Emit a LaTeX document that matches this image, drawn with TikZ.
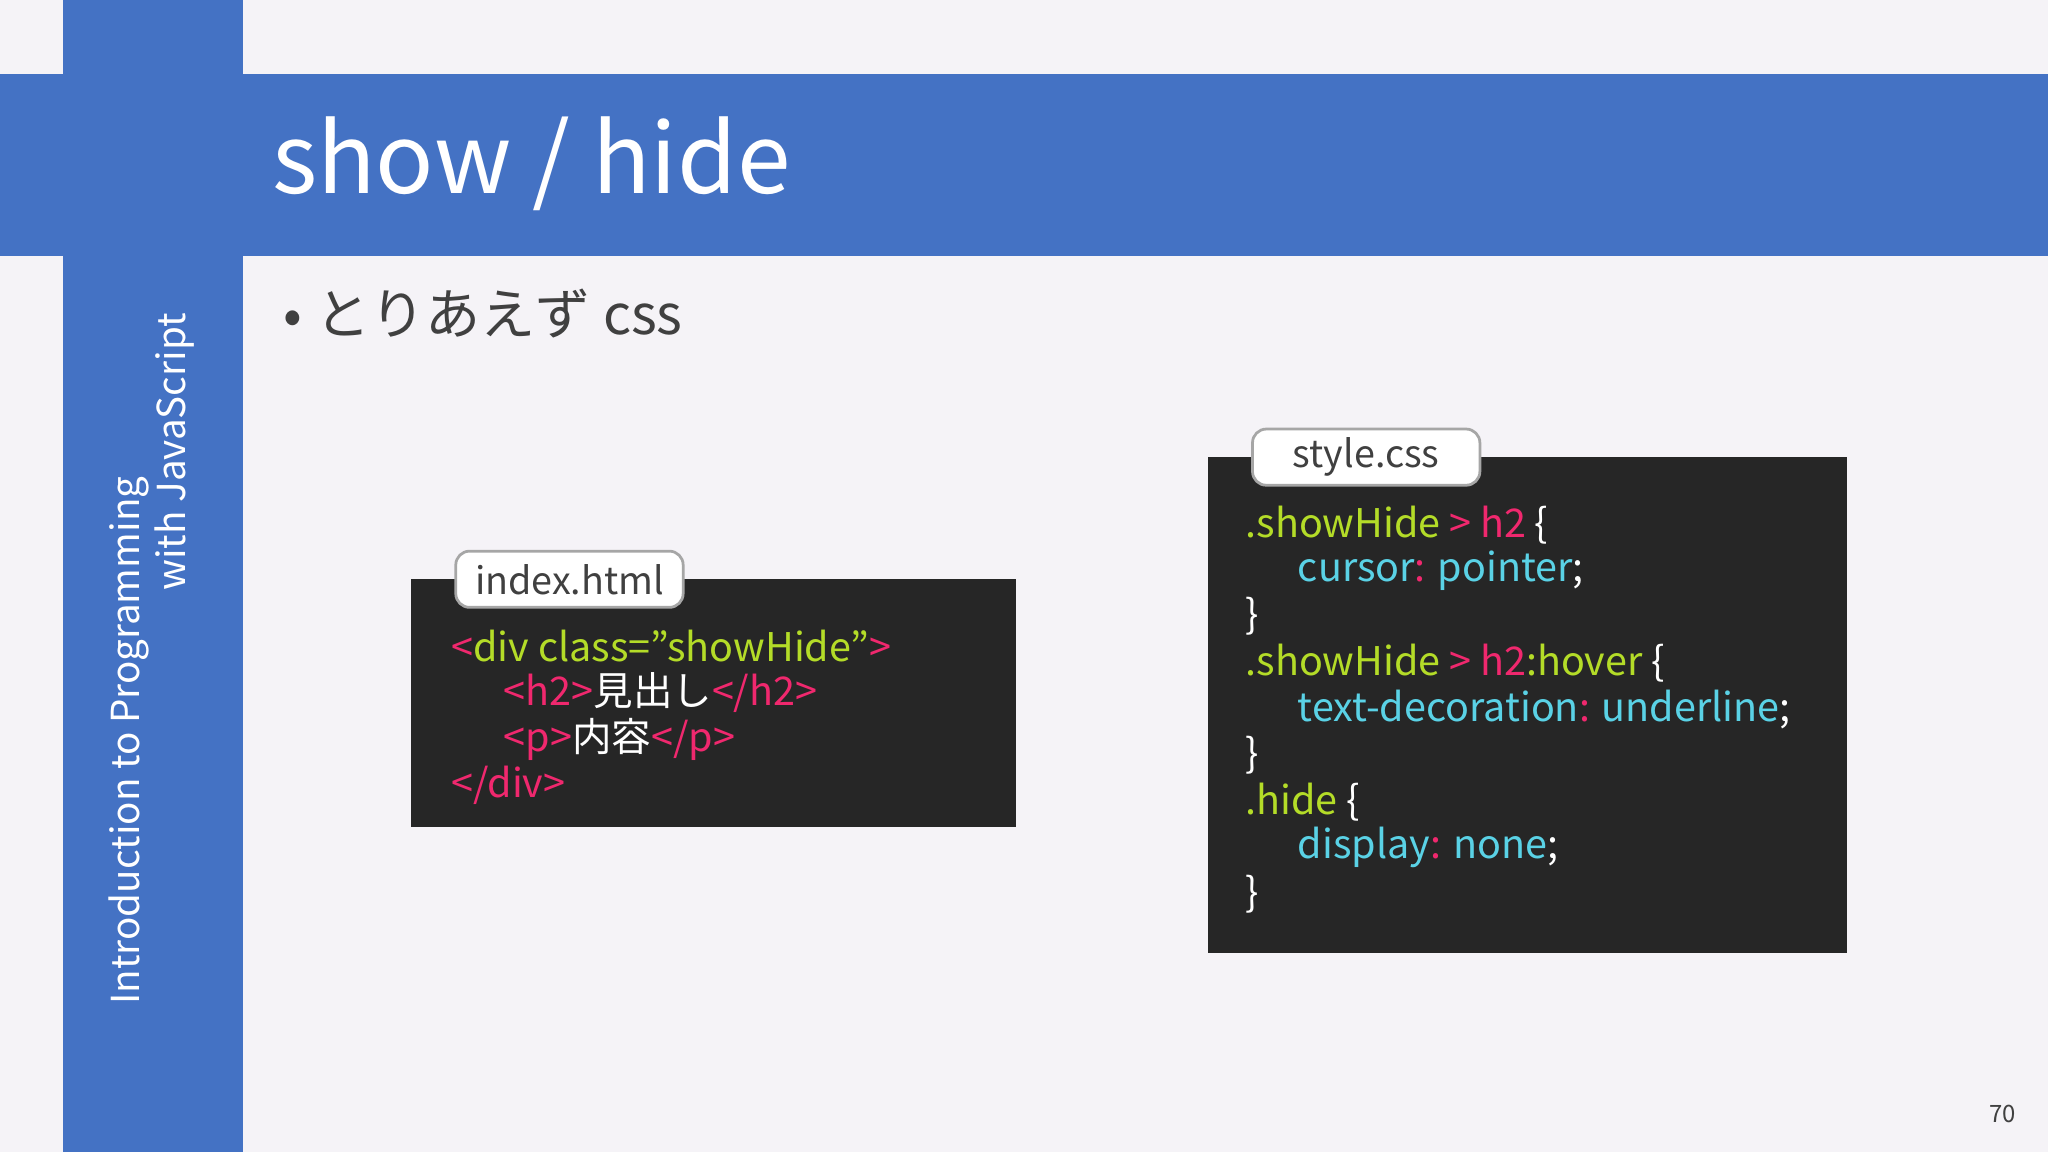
\documentclass[tikz,border=0pt]{standalone}
\usepackage{fontspec}
\setmainfont{Noto Sans CJK JP}
\definecolor{bg}{HTML}{F5F3F7}
\definecolor{blu}{HTML}{4472C4}
\definecolor{code}{HTML}{262626}
\definecolor{pk}{HTML}{F0286E}
\definecolor{gr}{HTML}{B4DC28}
\definecolor{cy}{HTML}{5AD2E6}
\definecolor{tx}{HTML}{404040}
\tikzset{
 codetxt/.style={anchor=west,inner sep=0pt,font=\fontsize{8.6}{10}\selectfont,text=white},
 tabbox/.style={draw=gray!70,fill=white,rounded corners=3pt,line width=0.6pt,font=\fontsize{8.2}{10}\selectfont,text=tx,minimum width=1.74cm,minimum height=0.43cm,inner sep=0pt}
}
\newcommand{\cP}[1]{\textcolor{pk}{#1}}
\newcommand{\cG}[1]{\textcolor{gr}{#1}}
\newcommand{\cC}[1]{\textcolor{cy}{#1}}
\begin{document}
\begin{tikzpicture}[x=0.01cm,y=-0.01cm]
\fill[bg] (0,0) rectangle (1568,882);
\useasboundingbox (0,0) rectangle (1568,882);
\fill[blu] (48,0) rectangle (186,882);
\fill[blu] (0,57) rectangle (1568,196);
\node[anchor=west,text=white,font=\fontsize{21}{24}\selectfont] (title) at (196,125) {show / hide};
\node[rotate=90,anchor=center,text=white,font=\fontsize{8.4}{10}\selectfont] (v1) at (99,567) {Introduction to Programming};
\node[rotate=90,anchor=center,text=white,font=\fontsize{8.4}{10}\selectfont] (v2) at (134,346) {with JavaScript};
\node[anchor=west,text=tx,font=\fontsize{12}{14}\selectfont] (bul) at (205,240) {• とりあえず css};
% html
\fill[code] (315,443) rectangle (778,633);
\node[tabbox] (t1) at (436,443.5) {index.html};
\node[codetxt] (h1) at (345,495) {\cP{<}\cG{div class="showHide"}\cP{>}};
\node[codetxt] (h2) at (385,530) {\cP{<h2>}見出し\cP{</h2>}};
\node[codetxt] (h3) at (385,566) {\cP{<p>}内容\cP{</p>}};
\node[codetxt] (h4) at (345,601) {\cP{</div>}};
% css
\fill[code] (925,350) rectangle (1414,730);
\node[tabbox] (t2) at (1046,350) {style.css};
\node[codetxt] (c1) at (953,402) {\cG{.showHide} \cP{> h2} \{};
\node[codetxt] (c2) at (993,437) {\cC{cursor}\cP{:} \cC{pointer};};
\node[codetxt] (c3) at (953,472) {\}};
\node[codetxt] (c4) at (953,508) {\cG{.showHide} \cP{> h2}\cG{:hover} \{};
\node[codetxt] (c5) at (993,543) {\cC{text-decoration}\cP{:} \cC{underline};};
\node[codetxt] (c6) at (953,578) {\}};
\node[codetxt] (c7) at (953,614) {\cG{.hide} \{};
\node[codetxt] (c8) at (993,649) {\cC{display}\cP{:} \cC{none};};
\node[codetxt] (c9) at (953,685) {\}};
\node[anchor=center,text=tx,font=\fontsize{5.2}{6}\selectfont] (pg) at (1533,853) {70};
\end{tikzpicture}
\end{document}
